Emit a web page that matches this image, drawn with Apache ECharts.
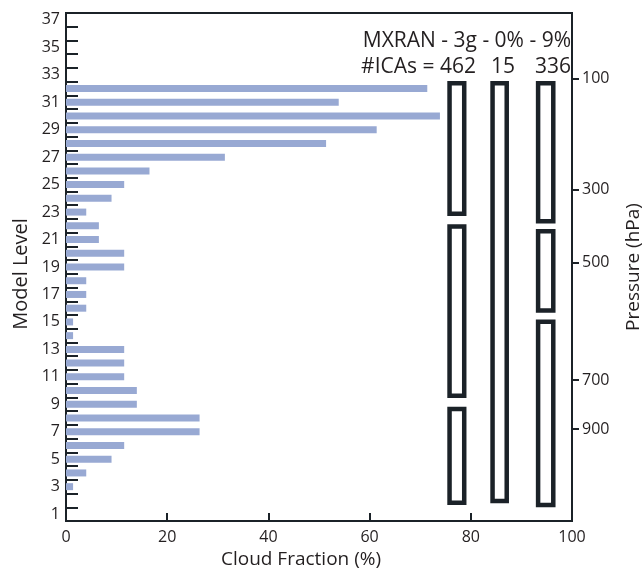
<!DOCTYPE html>
<html>
<head>
<meta charset="utf-8">
<script src="https://cdn.jsdelivr.net/npm/echarts@6/dist/echarts.min.js"></script>
<style>
html,body{margin:0;padding:0;background:#fff;}
#chart{width:644px;height:569px;}
</style>
</head>
<body>
<div id="chart"></div>
<script>
// Model levels (categories, bottom to top)
const levels = ['1','2','3','4','5','6','7','8','9','10','11','12','13','14','15','16','17','18','19','20','21','22','23','24','25','26','27','28','29','30','31','32','33','34','35','36','37'];
// Cloud fraction (%) per model level
const cloudFraction = [0,0,1.4,4.0,9.0,11.5,26.4,26.4,14.0,14.0,11.5,11.5,11.5,1.4,1.4,4.0,4.0,4.0,11.5,11.5,6.5,6.5,4.0,9.0,11.5,16.5,31.4,51.4,61.4,73.9,53.9,71.4,0,0,0,0,0];
// Pressure axis tick labels and the model level where each sits
const pressureLabels = ['100','300','500','700','900'];
const pressureLevels = [32.7, 24.66, 19.33, 10.76, 7.2];
// ICA boxes: [cloud-fraction start, end, bottom level, top level]
const icaBoxes = [
  [75.8, 78.7, 22.87, 32.38],
  [75.8, 78.7, 9.62, 21.95],
  [75.8, 78.7, 1.83, 8.65],
  [84.3, 87.1, 1.96, 32.38],
  [93.3, 96.3, 22.33, 32.38],
  [93.3, 96.3, 15.83, 21.61],
  [93.3, 96.3, 1.66, 15.01]
];
const titleLine = 'MXRAN - 3g - 0% - 9%';
const icaCountLabel = '#ICAs = 462';
const icaCounts = ['15', '336'];

const FONT = '"Open Sans", "Noto Sans", sans-serif';
const INK = '#231f20';
const AXIS = '#1b2228';

const chart = echarts.init(document.getElementById('chart'), null, {renderer: 'canvas'});
chart.setOption({
  animation: false,
  backgroundColor: '#ffffff',
  textStyle: {fontFamily: FONT, color: INK},
  grid: {left: 66, right: 72, top: 13, bottom: 48, show: true, borderColor: AXIS, borderWidth: 2,
         backgroundColor: 'transparent', containLabel: false, outerBoundsMode: 'none'},
  xAxis: {
    type: 'value', min: 0, max: 100, interval: 20,
    axisLine: {show: true, lineStyle: {color: AXIS, width: 2}},
    axisTick: {show: true, inside: true, length: 8, lineStyle: {color: AXIS, width: 2}},
    splitLine: {show: false},
    axisLabel: {fontSize: 16, color: INK, fontFamily: FONT, margin: 8},
    name: 'Cloud Fraction (%)', nameLocation: 'middle', nameGap: 27,
    nameTextStyle: {fontSize: 19, color: INK, fontFamily: FONT, padding: [0, 36, 0, 0]}
  },
  yAxis: [{
    type: 'category', data: levels, boundaryGap: true, position: 'left',
    axisLine: {show: true, lineStyle: {color: AXIS, width: 2}},
    axisTick: {show: true, inside: true, length: 12, interval: 0, lineStyle: {color: AXIS, width: 2}},
    axisLabel: {interval: 1, fontSize: 16, color: INK, fontFamily: FONT, margin: 6},
    splitLine: {show: false},
    name: 'Model Level', nameLocation: 'middle', nameGap: 34, nameRotate: 90,
    nameTextStyle: {fontSize: 20, color: INK, fontFamily: FONT, padding: [0, 14, 0, 0]}
  }, {
    type: 'value', min: 0.5, max: 37.5, position: 'right',
    axisLine: {show: true, lineStyle: {color: AXIS, width: 2}},
    axisTick: {show: true, inside: false, length: 7, customValues: pressureLevels, lineStyle: {color: AXIS, width: 2}},
    axisLabel: {
      customValues: pressureLevels, fontSize: 16, color: INK, fontFamily: FONT, margin: 10,
      formatter: function (v) {
        let best = 0;
        for (let i = 1; i < pressureLevels.length; i++) {
          if (Math.abs(pressureLevels[i] - v) < Math.abs(pressureLevels[best] - v)) best = i;
        }
        return pressureLabels[best];
      }
    },
    splitLine: {show: false},
    name: 'Pressure (hPa)', nameLocation: 'middle', nameGap: 52, nameRotate: 90,
    nameTextStyle: {fontSize: 19, color: INK, fontFamily: FONT}
  }],
  series: [{
    type: 'bar', yAxisIndex: 0, xAxisIndex: 0,
    data: cloudFraction, barWidth: 7,
    itemStyle: {color: '#98a9d3'}
  }, {
    type: 'custom', xAxisIndex: 0, yAxisIndex: 1,
    encode: {x: [0, 1], y: [2, 3]},
    data: icaBoxes,
    renderItem: function (params, api) {
      const p0 = api.coord([api.value(0), api.value(3)]);
      const p1 = api.coord([api.value(1), api.value(2)]);
      return {
        type: 'rect',
        shape: {x: p0[0], y: p0[1], width: p1[0] - p0[0], height: p1[1] - p0[1]},
        style: {fill: 'none', stroke: AXIS, lineWidth: 4.5}
      };
    }
  }],
  graphic: [
    {type: 'text', x: 571, y: 41, style: {text: titleLine, font: '21px ' + FONT, fill: INK, textAlign: 'right', textVerticalAlign: 'middle'}},
    {type: 'text', x: 476, y: 67, style: {text: icaCountLabel, font: '21px ' + FONT, fill: INK, textAlign: 'right', textVerticalAlign: 'middle'}},
    {type: 'text', x: 503, y: 67, style: {text: icaCounts[0], font: '21px ' + FONT, fill: INK, textAlign: 'center', textVerticalAlign: 'middle'}},
    {type: 'text', x: 571, y: 67, style: {text: icaCounts[1], font: '21px ' + FONT, fill: INK, textAlign: 'right', textVerticalAlign: 'middle'}}
  ]
});
</script>
</body>
</html>
